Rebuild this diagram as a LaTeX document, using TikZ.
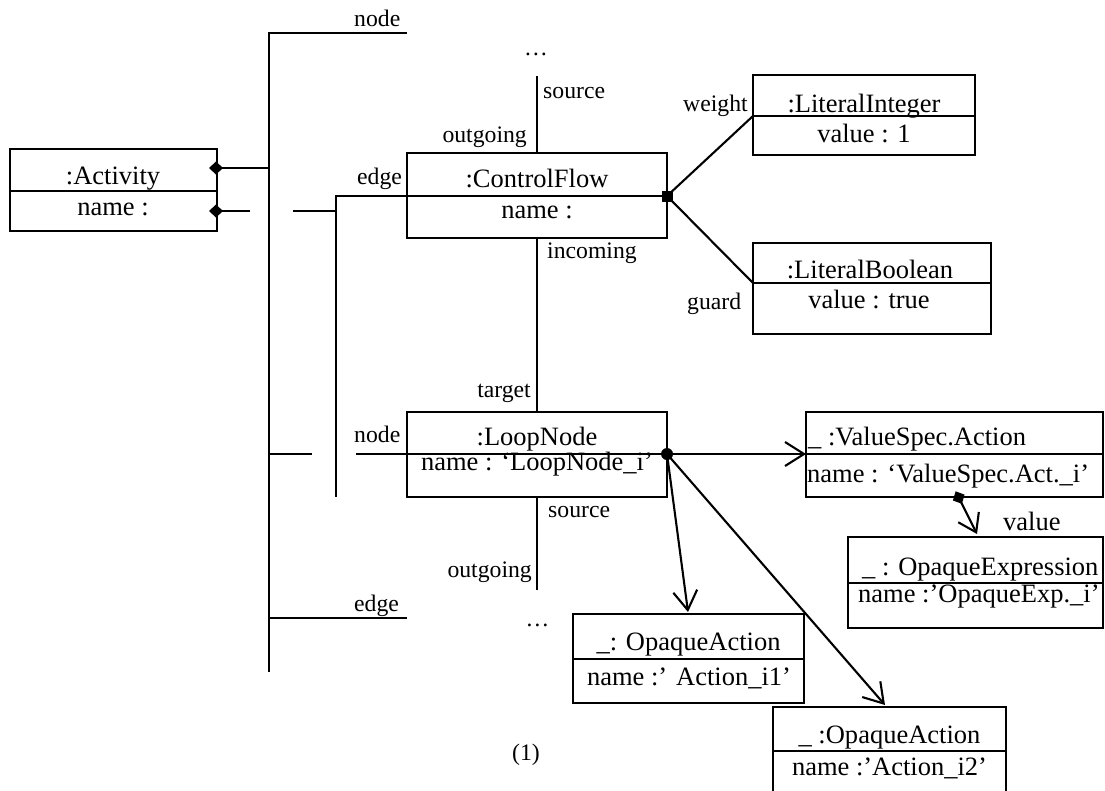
\documentclass[tikz,border=0pt]{standalone}
\usepackage{fontspec}
\setmainfont{Liberation Serif}
\usetikzlibrary{arrows.meta}

\tikzset{
  objbox/.style={draw, line width=2.1pt, inner sep=0pt, outer sep=0pt, anchor=north west},
  divider/.style={line width=2.1pt},
  objtxt/.style={font=\fontsize{26.5}{30}\selectfont, inner sep=0pt, anchor=base},
  objtxtl/.style={objtxt, anchor=base west},
  role/.style={font=\fontsize{23.7}{28}\selectfont, inner sep=0pt, anchor=base west},
  rolee/.style={role, anchor=base east},
  link/.style={line width=2.1pt},
  nav/.style={link, -{Straight Barb[length=19pt,width=24pt]}},
  comp/.style={link, {Diamond[length=14pt,width=13pt]}-},
  compnav/.style={link, {Diamond[length=14pt,width=13pt]}-{Straight Barb[length=17pt,width=23pt]}},
}

% object box with two compartments: name, x1, y1, x2, y of divider, y2
\newcommand\umlobject[6]{%
  \node[objbox, minimum width={(#4)-(#2)}, minimum height={(#6)-(#3)}] (#1) at (#2,#3) {};
  \coordinate (#1-dw) at (#2,#5);
  \coordinate (#1-de) at (#4,#5);
  \draw[divider] (#1-dw) -- (#1-de);
}

\begin{document}
\begin{tikzpicture}[x=1pt,y=-1pt]
\useasboundingbox (0,0) rectangle (1105,790);
\clip (0,0) rectangle (1105,790);

% ---- objects ----
\umlobject{act}{10}{149}{217}{191}{231}
\node[objtxt] (act-n) at (113,184) {:Activity};
\node[objtxt] (act-a) at (113,215) {name :};

\umlobject{cf}{407}{153}{667}{196}{238}
\node[objtxt] (cf-n) at (537,187) {:ControlFlow};
\node[objtxt] (cf-a) at (537,218) {name :};

\umlobject{li}{753}{75}{975}{116}{155}
\node[objtxt] (li-n) at (864,112) {:LiteralInteger};
\node[objtxt] (li-a) at (864,142) {value : 1};

\umlobject{lb}{753}{243}{991}{283}{334}
\node[objtxt] (lb-n) at (870,278) {:LiteralBoolean};
\node[objtxt] (lb-a) at (869,308) {value : true};

\umlobject{ln}{407}{412}{667}{454}{497}
\node[objtxt] (ln-n) at (537,445) {:LoopNode};
\node[objtxt] (ln-a) at (537,470) {name : ‘LoopNode\_i’};

\umlobject{vs}{806}{412}{1103}{454}{497}
\node[objtxtl] (vs-n) at (808,445) {\_ :ValueSpec.Action};
\node[objtxtl] (vs-a) at (807,482) {name : ‘ValueSpec.Act.\_i’};

\umlobject{oe}{848}{537}{1103}{583}{628}
\node[objtxtl] (oe-n) at (862,575) {\_ : OpaqueExpression};
\node[objtxtl] (oe-a) at (858,602) {name :’OpaqueExp.\_i’};

\umlobject{oa1}{573}{614}{804}{659}{703}
\node[objtxt] (oa1-n) at (688.5,650) {\_: OpaqueAction};
\node[objtxt] (oa1-a) at (689,685) {name :’ Action\_i1’};

\umlobject{oa2}{773}{707}{1006}{751}{800}
\node[objtxt] (oa2-n) at (889.5,743) {\_ :OpaqueAction};
\node[objtxt] (oa2-a) at (889.5,775) {name :’Action\_i2’};

% ---- bus of the owned nodes and edges ----
\coordinate (b1t) at (269,33);
\coordinate (b1b) at (269,672);
\coordinate (nodeEnd) at (407,33);
\coordinate (b1-act) at (269,168);
\coordinate (act-d1) at (209,168);
\coordinate (b1-ln) at (269,454);
\coordinate (hopB1) at (312,454);
\coordinate (hopB2) at (356,454);
\coordinate (b1-e) at (269,618);
\coordinate (edgeEnd) at (407,618);

\draw[link] (nodeEnd) -- (b1t) -- (b1b);
\draw[comp] (act-d1) -- (b1-act);
\draw[link] (b1-ln) -- (hopB1);
\draw[link] (hopB2) -- (ln-dw);
\draw[link] (b1-e) -- (edgeEnd);

% ---- second bus towards the control flow ----
\coordinate (act-d2) at (209,211);
\coordinate (hopA1) at (250,211);
\coordinate (hopA2) at (293,211);
\coordinate (b2-act) at (336,211);
\coordinate (b2t) at (336,196);
\coordinate (b2b) at (336,497);
\draw[comp] (act-d2) -- (hopA1);
\draw[link] (hopA2) -- (b2-act);
\draw[link] (cf-dw) -- (b2t) -- (b2b);

% ---- control flow links ----
\coordinate (cfOut) at (537,76);
\coordinate (lnOut) at (537,590);
\draw[link] (cf.north) -- (cfOut);
\draw[link] (cf.south) -- (ln.north);
\draw[link] (ln.south) -- (lnOut);

\node[fill, minimum size=11pt, inner sep=0pt] (sq) at (cf-de) {};
\draw[link] (sq.center) -- (li-dw);
\draw[link] (sq.center) -- (lb-dw);

% ---- loop node links ----
\node[circle, fill, minimum size=12pt, inner sep=0pt] (dot) at (ln-de) {};
\coordinate (oa1Tip) at (688,612);
\coordinate (oa2Tip) at (885,705);
\draw[nav] (dot.center) -- (vs-dw);
\draw[nav] (dot.center) -- (oa1Tip);
\draw[nav] (dot.center) -- (oa2Tip);

\coordinate (vsD) at (955.6,491.3);
\coordinate (oeTip) at (977,534);
\draw[compnav] (vsD) -- (oeTip);

% ---- role names ----
\node[role] (l-node1) at (354,26) {node};
\node[role, anchor=base] (l-dots1) at (536,55) {…};
\node[role] (l-src1) at (543,98) {source};
\node[rolee] (l-out1) at (527,142) {outgoing};
\node[role] (l-edge1) at (357,184) {edge};
\node[role] (l-inc) at (547,258) {incoming};
\node[rolee] (l-tgt) at (531,397) {target};
\node[role] (l-node2) at (354,442) {node};
\node[role] (l-src2) at (548,517) {source};
\node[rolee] (l-out2) at (532,577) {outgoing};
\node[role, anchor=base] (l-dots2) at (537.5,626) {…};
\node[role] (l-edge2) at (354,611) {edge};
\node[role] (l-weight) at (683,111) {weight};
\node[role] (l-guard) at (687,309) {guard};
\node[objtxtl] (l-value) at (1003,530) {value};
\node[role] (l-fig) at (512,760) {(1)};
\end{tikzpicture}
\end{document}
